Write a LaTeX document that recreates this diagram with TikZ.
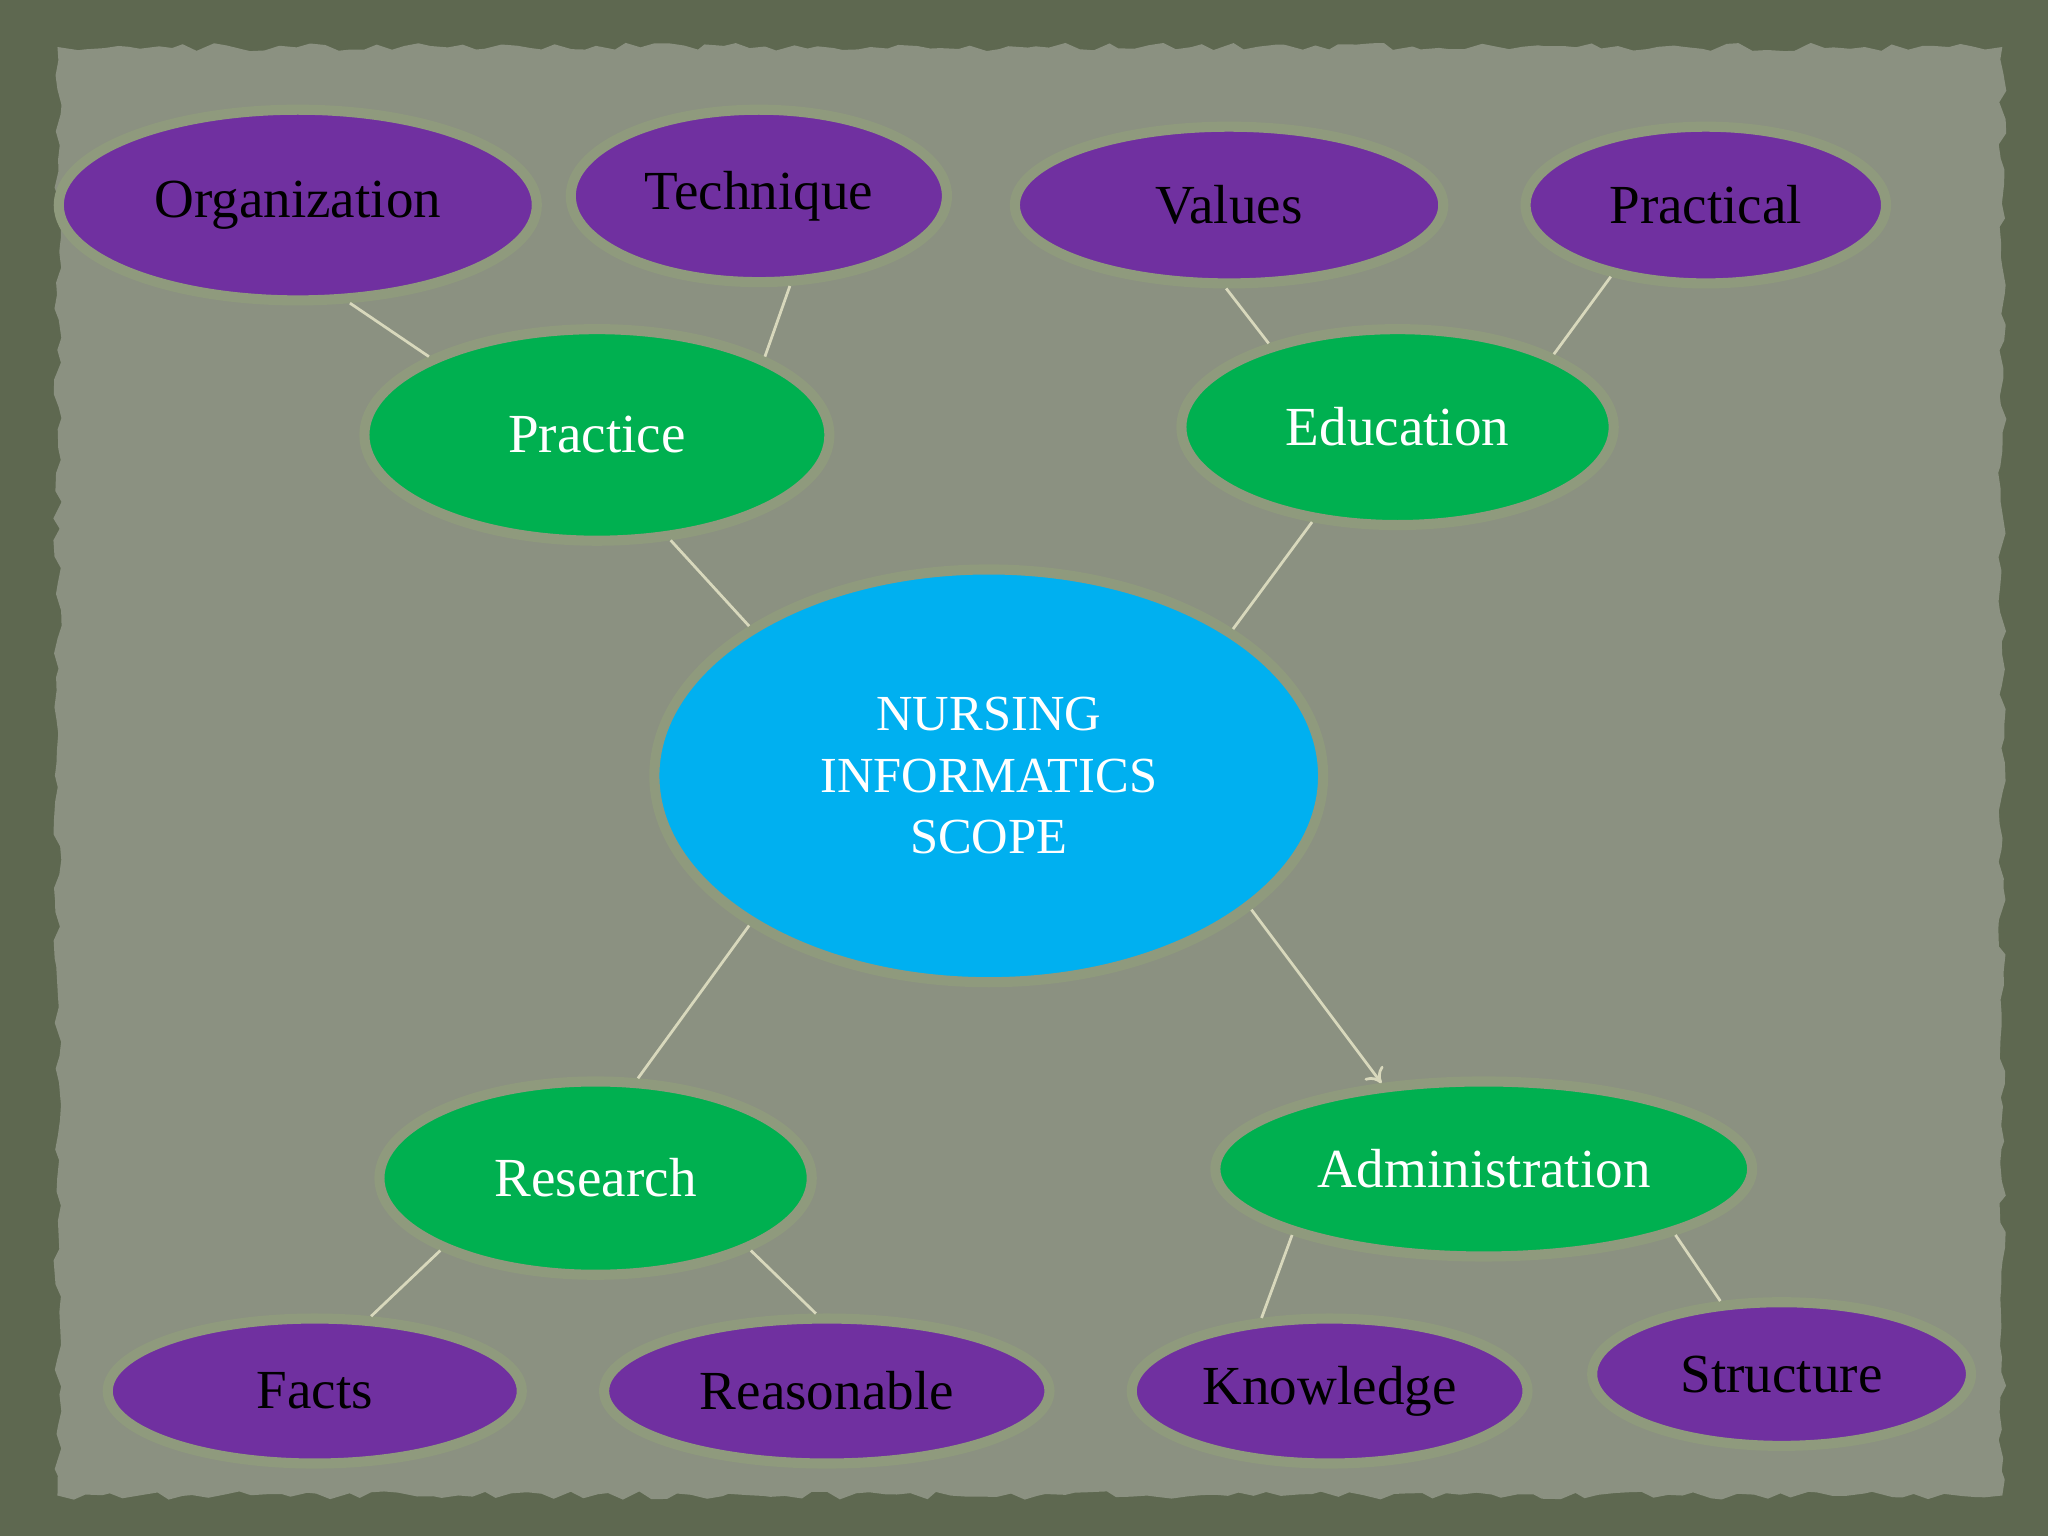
\documentclass[tikz,border=0pt]{standalone}
\usepackage{fontspec}
\setmainfont{Liberation Serif}
\usepackage{tikz}
\usetikzlibrary{positioning,calc,arrows.meta,shapes.geometric,decorations.pathmorphing}

\definecolor{frameolive}{HTML}{5E6850}
\definecolor{paper}{HTML}{8B9181}
\definecolor{rim}{HTML}{8F9A7D}
\definecolor{leafpurple}{HTML}{7030A0}
\definecolor{branchgreen}{HTML}{00B050}
\definecolor{coreblue}{HTML}{00B0F0}
\definecolor{link}{HTML}{D8D8BC}

\begin{document}
\begin{tikzpicture}[
        bubble/.style={ellipse, draw=rim, line width=2.2pt, inner sep=0pt,
            font=\fontsize{12}{14}\selectfont},
        leaf/.style={bubble, fill=leafpurple, text=black},
        branch/.style={bubble, fill=branchgreen, text=white},
        core/.style={bubble, fill=coreblue, text=white, align=center,
            font=\fontsize{11}{13.4}\selectfont},
        link/.style={draw=link, line width=0.6pt}
    ]

    % Frame and paper
    \fill[frameolive] (0,0) rectangle (15.68,-11.76);
    \pgfmathsetseed{7}
    \fill[paper, decorate, decoration={random steps, segment length=3pt, amplitude=0.9pt}]
        (0.44,-0.36) rectangle (15.33,-11.45);
    \useasboundingbox (0,0) rectangle (15.68,-11.76);

    % Centre
    \node[core, minimum width=5.12cm, minimum height=3.16cm] (scope) at (7.57,-5.94)
        {NURSING\\INFORMATICS\\SCOPE};

    % Branches
    \node[branch, minimum width=3.56cm, minimum height=1.62cm] (practice) at (4.57,-3.33) {Practice};
    \node[branch, minimum width=3.31cm, minimum height=1.50cm] (education) at (10.70,-3.27) {Education};
    \node[branch, minimum width=3.31cm, minimum height=1.48cm] (research) at (4.56,-9.02) {Research};
    \node[branch, minimum width=4.11cm, minimum height=1.34cm] (admin) at (11.36,-8.95) {Administration};

    % Leaves, top row
    \node[leaf, minimum width=3.66cm, minimum height=1.46cm] (organization) at (2.28,-1.57) {Organization};
    \node[leaf, minimum width=2.88cm, minimum height=1.32cm] (technique) at (5.81,-1.50) {Technique};
    \node[leaf, minimum width=3.28cm, minimum height=1.20cm] (values) at (9.41,-1.57) {Values};
    \node[leaf, minimum width=2.76cm, minimum height=1.20cm] (practical) at (13.06,-1.57) {Practical};

    % Leaves, bottom row
    \node[leaf, minimum width=3.17cm, minimum height=1.11cm] (facts) at (2.41,-10.65) {Facts};
    \node[leaf, minimum width=3.41cm, minimum height=1.11cm] (reasonable) at (6.33,-10.65) {Reasonable};
    \node[leaf, minimum width=3.03cm, minimum height=1.11cm] (knowledge) at (10.18,-10.65) {Knowledge};
    \node[leaf, minimum width=2.90cm, minimum height=1.10cm] (structure) at (13.64,-10.52) {Structure};

    % Connectors
    \draw[link] (organization.-62) -- (practice.155);
    \draw[link] (technique.-71) -- (practice.25);
    \draw[link] (values.-92) -- (education.147);
    \draw[link] (practical.-143) -- (education.25);
    \draw[link] (practice.-55) -- (scope.148);
    \draw[link] (education.-132) -- (scope.31);
    \draw[link] (scope.-148) -- (research.67);
    \draw[link, -{To[length=3pt,width=5pt]}] (scope.-27) -- (admin.140);
    \draw[link] (research.-155) -- (facts.53);
    \draw[link] (research.-25) -- (reasonable.98);
    \draw[link] (admin.-161) -- (knowledge.133);
    \draw[link] (admin.-19) -- (structure.130);

\end{tikzpicture}
\end{document}
